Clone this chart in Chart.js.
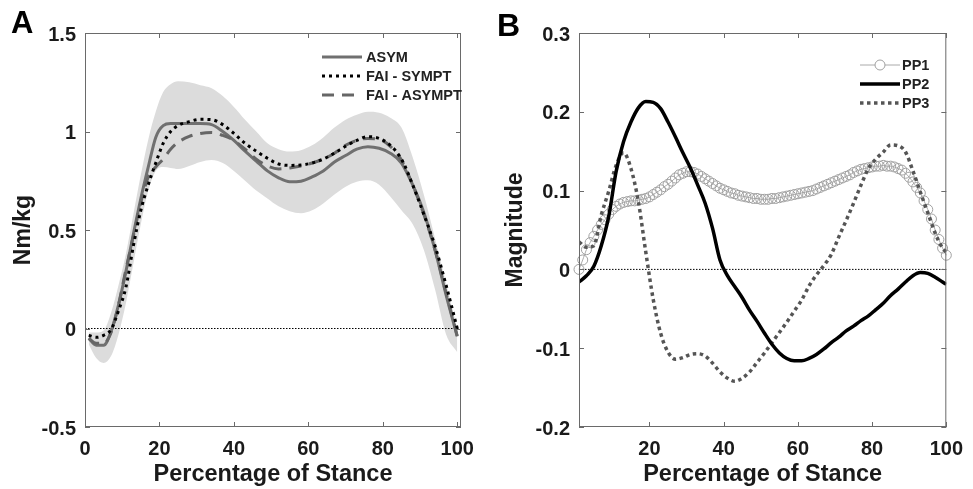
<!DOCTYPE html>
<html><head><meta charset="utf-8">
<script src="https://cdn.jsdelivr.net/npm/chart.js@4/dist/chart.umd.min.js"></script>
<style>
html,body{margin:0;padding:0;background:#fff;}
#wrap{position:relative;width:973px;height:489px;overflow:hidden;}
#ca{position:absolute;left:0;top:0;width:486px;height:489px;}
#cb{position:absolute;left:486px;top:0;width:487px;height:489px;}
</style></head><body>
<div id="wrap"><canvas id="ca" width="486" height="489"></canvas><canvas id="cb" width="487" height="489"></canvas></div>
<script>
// ---------- Panel A data ----------
const xA = [1,3,5,7,9,11,13,15,17,19,21,23,25,28,31,34,37,40,43,46,49,52,55,58,61,64,67,70,73,76,79,82,85,88,91,94,97,100];
const asym = [-0.05,-0.085,-0.085,-0.015,0.12,0.29,0.48,0.66,0.82,0.97,1.03,1.04,1.04,1.04,1.04,1.035,1.0,0.955,0.9,0.85,0.8,0.765,0.745,0.748,0.77,0.8,0.845,0.878,0.91,0.923,0.915,0.89,0.84,0.73,0.59,0.4,0.17,-0.04];
const faiSympt = [-0.035,-0.045,-0.035,-0.005,0.09,0.21,0.42,0.6,0.73,0.84,0.94,1.0,1.03,1.05,1.062,1.06,1.035,0.99,0.94,0.9,0.864,0.835,0.828,0.83,0.84,0.86,0.89,0.925,0.955,0.974,0.965,0.93,0.86,0.73,0.58,0.42,0.22,0.0];
const faiAsympt = [-0.05,-0.075,-0.075,-0.02,0.12,0.3,0.47,0.64,0.77,0.82,0.86,0.91,0.945,0.975,0.99,0.995,0.98,0.955,0.91,0.86,0.825,0.81,0.815,0.825,0.84,0.86,0.89,0.93,0.955,0.965,0.96,0.925,0.855,0.73,0.58,0.4,0.18,-0.04];
const bandUpper = [-0.02,-0.02,-0.01,0.08,0.22,0.38,0.58,0.78,0.96,1.1,1.2,1.24,1.255,1.25,1.235,1.22,1.18,1.125,1.06,1.0,0.94,0.91,0.898,0.905,0.93,0.97,1.02,1.06,1.085,1.1,1.095,1.07,1.02,0.87,0.68,0.46,0.23,0.0];
const bandLower = [-0.08,-0.15,-0.175,-0.14,-0.03,0.13,0.33,0.53,0.7,0.8,0.82,0.815,0.81,0.825,0.845,0.855,0.84,0.8,0.75,0.7,0.66,0.62,0.595,0.585,0.6,0.635,0.68,0.72,0.745,0.752,0.73,0.67,0.6,0.53,0.4,0.2,-0.03,-0.12];
const namesA = ['ASYM','FAI - SYMPT','FAI - ASYMPT'];
const xTicksA = [0,20,40,60,80,100];
const xTickLabelsA = ['0','20','40','60','80','100'];
const yTicksA = [-0.5,0,0.5,1,1.5];
const yTickLabelsA = ['-0.5','0','0.5','1','1.5'];
const zeroXA = [0,101];

// ---------- Panel B data ----------
const xPP1 = Array.from({length:100},(_,i)=>i+1);
const pp1 = [0.000,0.012,0.025,0.034,0.042,0.050,0.057,0.063,0.070,0.076,0.080,0.083,0.085,0.086,0.087,0.087,0.088,0.089,0.090,0.092,0.095,0.098,0.101,0.105,0.108,0.112,0.116,0.120,0.122,0.124,0.124,0.123,0.121,0.118,0.115,0.112,0.109,0.106,0.103,0.101,0.099,0.097,0.096,0.094,0.093,0.092,0.091,0.090,0.090,0.089,0.089,0.089,0.090,0.090,0.091,0.092,0.093,0.094,0.095,0.096,0.097,0.098,0.099,0.100,0.102,0.104,0.106,0.108,0.110,0.112,0.114,0.116,0.118,0.120,0.123,0.125,0.127,0.128,0.129,0.130,0.131,0.131,0.132,0.131,0.131,0.130,0.128,0.126,0.122,0.117,0.111,0.104,0.097,0.087,0.076,0.064,0.050,0.038,0.027,0.018];
const xB = [1,3,5,7,9,11,13,15,17,19,21,23,25,27,29,31,33,35,37,39,41,43,45,47,49,51,53,55,57,59,61,63,65,67,69,71,73,75,77,79,81,83,85,87,89,91,93,95,97,99,100];
const pp2 = [-0.016,-0.008,0.004,0.03,0.067,0.124,0.162,0.187,0.205,0.213,0.212,0.204,0.187,0.168,0.148,0.129,0.107,0.084,0.052,0.012,-0.008,-0.022,-0.036,-0.052,-0.066,-0.081,-0.095,-0.106,-0.113,-0.116,-0.116,-0.113,-0.108,-0.101,-0.093,-0.086,-0.078,-0.072,-0.065,-0.059,-0.051,-0.043,-0.033,-0.025,-0.016,-0.008,-0.004,-0.005,-0.01,-0.016,-0.019];
const pp3 = [0.035,0.028,0.03,0.069,0.099,0.132,0.148,0.128,0.086,0.022,-0.038,-0.081,-0.105,-0.114,-0.112,-0.108,-0.107,-0.11,-0.119,-0.13,-0.138,-0.142,-0.138,-0.13,-0.118,-0.106,-0.093,-0.08,-0.067,-0.053,-0.039,-0.021,-0.007,0.005,0.019,0.041,0.062,0.084,0.107,0.128,0.14,0.149,0.158,0.157,0.149,0.125,0.098,0.072,0.046,0.027,0.022];
const namesB = ['PP1','PP2','PP3'];
const xTicksB = [20,40,60,80,100];
const xTickLabelsB = ['20','40','60','80','100'];
const yTicksB = [-0.2,-0.1,0,0.1,0.2,0.3];
const yTickLabelsB = ['-0.2','-0.1','0','0.1','0.2','0.3'];
const zeroXB = [1,100];

const FONT = '"Liberation Sans", Arial, sans-serif';
const TXT = '#1a1a1a';
Chart.defaults.color = TXT;
Chart.defaults.font.family = FONT;

const pts = (xs, ys) => xs.map((x,i)=>({x, y: ys[i]}));

const framePlugin = {
  id: 'frame',
  afterDraw(chart, args, o) {
    const {ctx, chartArea: a, scales: {x, y}} = chart;
    ctx.save();
    ctx.strokeStyle = '#6a6a6a';
    ctx.lineWidth = 1;
    ctx.strokeRect(a.left + 0.5, a.top + 0.5, a.right - a.left - 1, a.bottom - a.top - 1);
    const L = 5;
    ctx.beginPath();
    x.ticks.forEach(t => {
      const px = Math.round(x.getPixelForValue(t.value)) + 0.5;
      ctx.moveTo(px, a.bottom); ctx.lineTo(px, a.bottom - L);
      ctx.moveTo(px, a.top); ctx.lineTo(px, a.top + L);
    });
    y.ticks.forEach(t => {
      const py = Math.round(y.getPixelForValue(t.value)) + 0.5;
      ctx.moveTo(a.left, py); ctx.lineTo(a.left + L, py);
      ctx.moveTo(a.right, py); ctx.lineTo(a.right - L, py);
    });
    ctx.stroke();
    // panel letter
    ctx.fillStyle = '#000';
    ctx.font = 'bold ' + o.letterSize + 'px ' + FONT;
    ctx.textBaseline = 'alphabetic';
    ctx.textAlign = 'left';
    ctx.fillText(o.letter, o.lx, o.ly);
    // legend
    ctx.font = 'bold 14.5px ' + FONT;
    ctx.textBaseline = 'middle';
    o.items.forEach((di, k) => {
      const ds = chart.data.datasets[di];
      const yy = o.ly0 + k * o.dy;
      ctx.save();
      ctx.strokeStyle = ds.borderColor;
      ctx.lineWidth = ds.borderWidth;
      ctx.setLineDash(ds.borderDash || []);
      ctx.beginPath(); ctx.moveTo(o.lx0, yy); ctx.lineTo(o.lx1, yy); ctx.stroke();
      if (ds.pointRadius > 0) {
        ctx.setLineDash([]);
        ctx.fillStyle = '#fff';
        ctx.strokeStyle = ds.pointBorderColor;
        ctx.lineWidth = ds.pointBorderWidth;
        ctx.beginPath(); ctx.arc((o.lx0 + o.lx1) / 2, yy, ds.pointRadius, 0, Math.PI * 2); ctx.fill(); ctx.stroke();
      }
      ctx.restore();
      ctx.fillStyle = '#222';
      ctx.fillText(ds.label, o.tx, yy + 1);
    });
    ctx.restore();
  }
};

function scaleX(min, max, ticks, labels) {
  return {
    type: 'linear', min, max,
    afterBuildTicks: s => { s.ticks = ticks.map(v => ({value: v})); },
    afterFit: s => { s.height = 62; },
    grid: {display: false, drawTicks: false}, border: {display: false},
    ticks: {padding: 10, maxRotation: 0, autoSkip: false, font: {size: 20, weight: 'bold'}, color: TXT,
      callback: v => labels[ticks.indexOf(v)]},
    title: {display: true, text: 'Percentage of Stance', font: {size: 23.5, weight: 'bold'}, color: TXT, padding: {top: 1, bottom: 0}}
  };
}
function scaleY(min, max, ticks, labels, width, title, titlePad) {
  return {
    type: 'linear', min, max,
    afterBuildTicks: s => { s.ticks = ticks.map(v => ({value: v})); },
    afterFit: s => { s.width = width; },
    grid: {display: false, drawTicks: false}, border: {display: false},
    ticks: {padding: 9, labelOffset: 2, autoSkip: false, font: {size: 20, weight: 'bold'}, color: TXT,
      callback: v => labels[ticks.indexOf(v)]},
    title: {display: true, text: title, font: {size: 23, weight: 'bold'}, color: TXT, padding: {top: titlePad, bottom: 0}}
  };
}

const common = {
  responsive: false, animation: false, devicePixelRatio: 1,
  elements: {point: {radius: 0}, line: {cubicInterpolationMode: 'monotone'}}
};

new Chart(document.getElementById('ca'), {
  type: 'line',
  data: {datasets: [
    {label: 'band upper', data: pts(xA, bandUpper), borderWidth: 0, borderColor: 'rgba(0,0,0,0)', backgroundColor: '#dcdcdc', fill: '+1', pointRadius: 0, order: 10},
    {label: 'band lower', data: pts(xA, bandLower), borderWidth: 0, borderColor: 'rgba(0,0,0,0)', fill: false, pointRadius: 0, order: 11},
    {label: 'zero', data: pts(zeroXA, [0, 0]), borderColor: '#000', borderWidth: 1, borderDash: [1.5, 1.5], pointRadius: 0, order: 5},
    {label: namesA[0], data: pts(xA, asym), borderColor: '#707070', borderWidth: 3, pointRadius: 0, order: 3},
    {label: namesA[1], data: pts(xA, faiSympt), borderColor: '#000', borderWidth: 3, borderDash: [3, 4], pointRadius: 0, order: 1},
    {label: namesA[2], data: pts(xA, faiAsympt), borderColor: '#666', borderWidth: 3, borderDash: [12, 8], pointRadius: 0, order: 2}
  ]},
  options: Object.assign({}, common, {
    layout: {padding: {left: 0, right: 25, top: 33, bottom: 0}},
    scales: {x: scaleX(0, 101, xTicksA, xTickLabelsA), y: scaleY(-0.5, 1.5, yTicksA, yTickLabelsA, 85, 'Nm/kg', 10)},
    plugins: {legend: {display: false}, tooltip: {enabled: false},
      frame: {letter: 'A', letterSize: 31, lx: 11, ly: 33, items: [3, 4, 5], lx0: 322, lx1: 362, tx: 366, ly0: 57, dy: 19}}
  }),
  plugins: [framePlugin]
});

new Chart(document.getElementById('cb'), {
  type: 'line',
  data: {datasets: [
    {label: 'zero', data: pts(zeroXB, [0, 0]), borderColor: '#000', borderWidth: 1, borderDash: [1.5, 1.5], pointRadius: 0, order: 5},
    {label: namesB[0], data: pts(xPP1, pp1), borderColor: '#aaaaaa', borderWidth: 1, pointRadius: 5, pointBorderColor: '#a0a0a0', pointBackgroundColor: 'rgba(255,255,255,0)', pointBorderWidth: 1, clip: false, order: 3},
    {label: namesB[1], data: pts(xB, pp2), borderColor: '#000', borderWidth: 3.5, pointRadius: 0, order: 1},
    {label: namesB[2], data: pts(xB, pp3), borderColor: '#555', borderWidth: 3.5, borderDash: [3.5, 3.5], pointRadius: 0, order: 2}
  ]},
  options: Object.assign({}, common, {
    layout: {padding: {left: 0, right: 19, top: 33, bottom: 0}},
    scales: {x: scaleX(1, 100, xTicksB, xTickLabelsB), y: scaleY(-0.2, 0.3, yTicksB, yTickLabelsB, 93, 'Magnitude', 16)},
    plugins: {legend: {display: false}, tooltip: {enabled: false},
      frame: {letter: 'B', letterSize: 32, lx: 11, ly: 36, items: [1, 2, 3], lx0: 374, lx1: 414, tx: 416, ly0: 65, dy: 19}}
  }),
  plugins: [framePlugin]
});
</script>
</body></html>
